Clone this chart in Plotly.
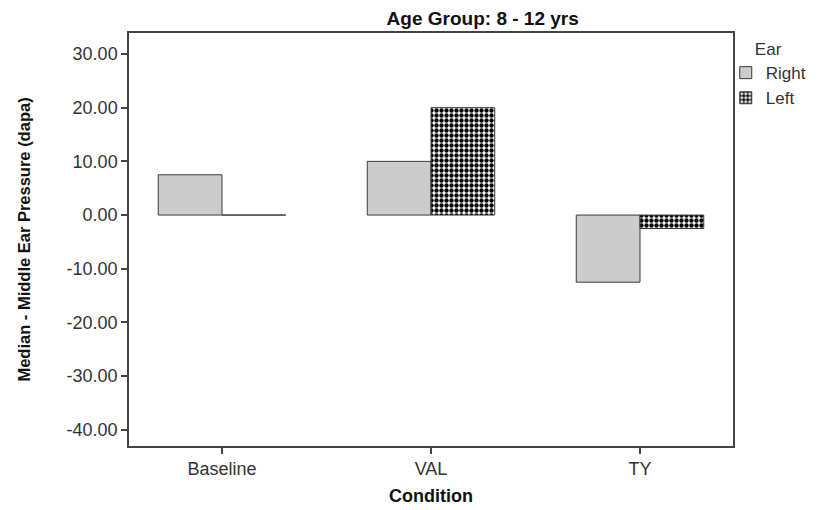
import plotly.graph_objects as go

categories = ["Baseline", "VAL", "TY"]
right_values = [7.5, 10.0, -12.5]
left_values = [0.0, 20.0, -2.5]
y_ticks = [30, 20, 10, 0, -10, -20, -30, -40]
y_tick_labels = ["30.00", "20.00", "10.00", "0.00", "-10.00", "-20.00", "-30.00", "-40.00"]

FONT = "Liberation Sans, Arial, sans-serif"

fig = go.Figure()
fig.add_trace(go.Bar(
    x=categories, y=right_values, name="Right",
    marker=dict(color="#cccccc", line=dict(color="#3a3a3a", width=1)),
))
fig.add_trace(go.Bar(
    x=categories, y=left_values, name="Left",
    marker=dict(color="white", line=dict(color="#3a3a3a", width=1),
                pattern=dict(shape=".", fgcolor="black", bgcolor="white",
                             size=5, solidity=0.6, fillmode="replace")),
))

fig.update_layout(
    width=827, height=510,
    margin=dict(l=121, r=102, t=25, b=72),
    paper_bgcolor="white", plot_bgcolor="white",
    barmode="group", bargap=0.39, bargroupgap=0,
    font=dict(family=FONT, color="#222222"),
    title=dict(text="<b>Age Group: 8 - 12 yrs</b>", x=0.574, xanchor="center",
               y=0.98, yanchor="middle", font=dict(size=19, color="#111111")),
    xaxis=dict(
        range=[-0.445, 2.445], showline=True, linecolor="#444444", linewidth=1.5,
        mirror=True, ticks="outside", ticklen=6, tickcolor="#444444", tickwidth=1.5,
        tickfont=dict(size=18, color="#333333"), showgrid=False, zeroline=False,
        title=dict(text="<b>Condition</b>", font=dict(size=18, color="#111111"), standoff=11),
    ),
    yaxis=dict(
        range=[-43.0, 33.9], showline=True, linecolor="#444444", linewidth=1.5,
        mirror=True, ticks="outside", ticklen=6, tickcolor="#444444", tickwidth=1.5,
        tickvals=y_ticks, ticktext=y_tick_labels,
        tickfont=dict(size=18, color="#333333"), showgrid=False, zeroline=False,
        title=dict(text="<b>Median - Middle Ear Pressure (dapa)</b>",
                   font=dict(size=16.5, color="#111111"), standoff=32),
    ),
    legend=dict(
        x=0.988, xanchor="left", y=1.0, yanchor="top",
        title=dict(text="Ear", font=dict(size=17, color="#333333"), side="top center"),
        font=dict(size=17, color="#333333"), tracegroupgap=0,
        itemwidth=30, bgcolor="rgba(0,0,0,0)",
    ),
    showlegend=True,
)

fig.write_html("out.html")
